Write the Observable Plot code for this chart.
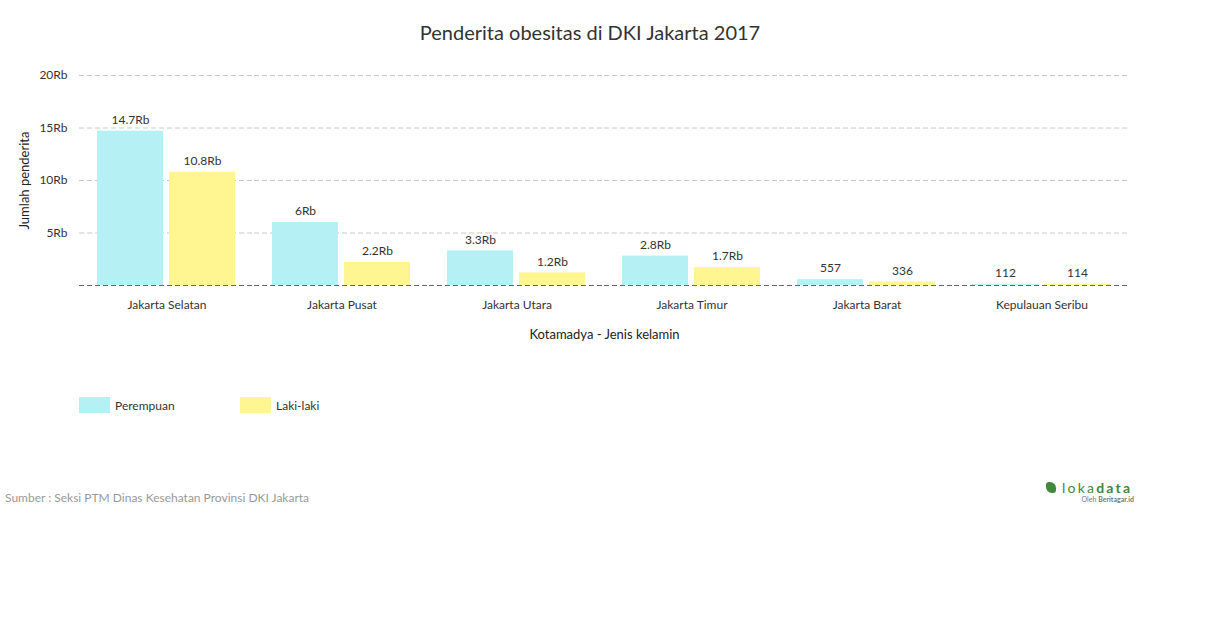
<!DOCTYPE html>
<html>
<head>
<meta charset="utf-8">
<script src="https://cdn.jsdelivr.net/npm/d3@7"></script>
<script src="https://cdn.jsdelivr.net/npm/@observablehq/plot@0.6"></script>
<style>
  body { margin: 0; background: #fff; font-family: Lato, "Open Sans", sans-serif; }
  #wrap { position: relative; width: 1210px; height: 628px; }
  #title { position: absolute; left: 0; top: 20px; width: 1180px; text-align: center; font-size: 20px; color: #333; }
  #chart { position: absolute; left: 0; top: 60px; }
  #chart g[aria-label="y-axis label"] text, #chart g[aria-label="fx-axis label"] text { font-size: 13px; fill: #222; }
  .legend { position: absolute; top: 397px; left: 79px; display: flex; font-size: 12px; color: #333; }
  .legend .item { display: flex; align-items: center; width: 161px; }
  .legend .sw { width: 31px; height: 16px; margin-right: 5px; }
  #source { position: absolute; left: 5px; top: 490px; font-size: 12px; color: #999; }
  #logo { position: absolute; left: 1046px; top: 479px; width: 90px; color: #3f8a3a; }
  #logo .main { font-size: 14px; letter-spacing: 2.2px; display: flex; align-items: center; }
  #logo .icon { display: inline-block; width: 10px; height: 11px; background: #3f8a3a; border-radius: 3px 6px 3px 6px; margin-right: 6px; }
  #logo .sub { font-size: 7px; color: #777; text-align: right; margin-top: -1px; margin-right: 2px; }
</style>
</head>
<body>
<div id="wrap">
  <div id="title">Penderita obesitas di DKI Jakarta 2017</div>
  <div id="chart"></div>
  <div class="legend" id="legend"></div>
  <div id="source">Sumber : Seksi PTM Dinas Kesehatan Provinsi DKI Jakarta</div>
  <div id="logo"><div class="main"><span class="icon"></span><span>loka</span><b>data</b></div><div class="sub">Oleh <b>Beritagar.id</b></div></div>
</div>
<script>
const kota = ["Jakarta Selatan", "Jakarta Pusat", "Jakarta Utara", "Jakarta Timur", "Jakarta Barat", "Kepulauan Seribu"];
const perempuan = [14700, 6000, 3300, 2800, 557, 112];
const lakilaki = [10800, 2200, 1200, 1700, 336, 114];
const genders = ["Perempuan", "Laki-laki"];
const colors = ["#b5f1f4", "#fff591"];
const yTicks = [5000, 10000, 15000, 20000];

const fmt = d => d >= 1000 ? (Math.round(d / 100) / 10) + "Rb" : String(d);

const rows = [];
kota.forEach((k, i) => {
  rows.push({kota: k, gender: genders[0], value: perempuan[i]});
  rows.push({kota: k, gender: genders[1], value: lakilaki[i]});
});

const chart = Plot.plot({
  width: 1210,
  height: 285,
  marginTop: 15,
  marginLeft: 78,
  marginRight: 80,
  marginBottom: 60,
  style: {fontFamily: "Lato, sans-serif", fontSize: "12px", color: "#333", background: "transparent"},
  fx: {domain: kota, padding: 0, tickSize: 0, tickPadding: 15, label: "Kotamadya - Jenis kelamin", labelAnchor: "center", labelOffset: 53, labelArrow: "none"},
  x: {domain: genders, paddingInner: 0.08, paddingOuter: 0.24, axis: null},
  y: {domain: [0, 20000], ticks: yTicks, tickSize: 0, tickPadding: 12, tickFormat: d => d / 1000 + "Rb", label: "Jumlah penderita", labelAnchor: "center", labelOffset: 60, labelArrow: "none"},
  color: {domain: genders, range: colors},
  marks: [
    Plot.ruleY(yTicks, {stroke: "#c8c8c8", strokeDasharray: "5,3"}),
    Plot.barY(rows, {fx: "kota", x: "gender", y: "value", fill: "gender"}),
    Plot.ruleY([0], {stroke: "#666", strokeDasharray: "5,3"}),
    Plot.text(rows, {fx: "kota", x: "gender", y: "value", text: d => fmt(d.value), dy: -11, fill: "#333", fontSize: 12})
  ]
});
document.getElementById("chart").appendChild(chart);

const leg = document.getElementById("legend");
genders.forEach((g, i) => {
  const it = document.createElement("div");
  it.className = "item";
  it.innerHTML = `<span class="sw" style="background:${colors[i]}"></span><span>${g}</span>`;
  leg.appendChild(it);
});
</script>
</body>
</html>
